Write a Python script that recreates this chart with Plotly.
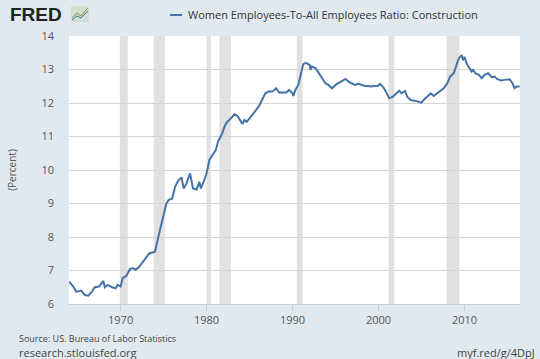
import plotly.graph_objects as go

dates = ["1964-01","1964-07","1964-11","1965-06","1965-11","1966-04","1966-09","1967-01","1967-07","1968-01",
"1968-03","1968-07","1969-01","1969-06","1969-09","1970-01","1970-04","1970-09","1971-02","1971-06",
"1971-10","1972-03","1972-10","1973-05","1974-01","1974-04","1974-09","1974-12","1975-05","1975-08",
"1976-01","1976-05","1976-10","1977-02","1977-05","1977-09","1978-02","1978-06","1978-11","1979-03",
"1979-05","1979-09","1980-01","1980-05","1980-10","1981-02","1981-05","1981-10","1982-03","1982-06",
"1982-11","1983-04","1983-09","1984-03","1984-06","1984-09","1985-01","1985-05","1985-10","1986-03",
"1986-07","1986-11","1987-04","1987-09","1988-02","1988-06","1988-11","1989-04","1989-08","1990-01",
"1990-02","1990-05","1990-09","1991-01","1991-04","1991-08","1992-01","1992-02","1992-04","1992-09",
"1993-02","1993-06","1993-11","1994-03","1994-08","1995-01","1995-05","1995-10","1996-03","1996-07",
"1996-12","1997-04","1997-09","1998-02","1998-06","1998-10","1999-03","1999-07","1999-12","2000-03",
"2000-07","2000-10","2001-02","2001-04","2001-09","2002-02","2002-06","2002-09","2003-02","2003-05",
"2003-10","2004-03","2004-08","2005-01","2005-04","2005-09","2006-02","2006-06","2006-11","2007-04",
"2007-08","2008-01","2008-05","2008-10","2009-02","2009-05","2009-09","2009-11","2010-01","2010-04",
"2010-08","2010-11","2011-01","2011-04","2011-09","2012-01","2012-05","2012-10","2013-03","2013-07",
"2013-11","2014-04","2014-09","2015-01","2015-04","2015-08","2015-11","2016-02","2016-06"]
values = [6.67,6.52,6.37,6.40,6.27,6.25,6.37,6.50,6.52,6.69,
6.50,6.57,6.50,6.47,6.57,6.52,6.77,6.84,7.04,7.07,
7.02,7.11,7.31,7.51,7.56,7.86,8.31,8.56,9.00,9.10,
9.15,9.50,9.70,9.78,9.45,9.60,9.90,9.45,9.42,9.65,
9.45,9.65,9.90,10.30,10.45,10.60,10.85,11.05,11.34,11.44,
11.54,11.67,11.59,11.37,11.49,11.44,11.54,11.64,11.79,11.94,
12.14,12.29,12.34,12.34,12.44,12.31,12.31,12.31,12.39,12.29,
12.21,12.39,12.54,12.89,13.16,13.20,13.13,12.99,13.09,13.04,
12.89,12.74,12.59,12.54,12.44,12.54,12.59,12.67,12.72,12.64,
12.59,12.54,12.57,12.54,12.51,12.51,12.49,12.51,12.51,12.57,
12.49,12.39,12.19,12.14,12.19,12.29,12.37,12.29,12.36,12.19,
12.09,12.07,12.04,12.01,12.09,12.19,12.29,12.21,12.29,12.39,
12.44,12.59,12.79,12.89,13.13,13.33,13.43,13.28,13.38,13.18,
13.04,12.94,12.99,12.89,12.84,12.74,12.84,12.89,12.77,12.79,
12.71,12.67,12.69,12.69,12.71,12.59,12.44,12.49,12.49]

recession_starts = ["1969-12-01","1973-11-01","1980-01-01","1981-07-01","1990-07-01","2001-03-01","2007-12-01"]
recession_ends = ["1970-11-01","1975-03-01","1980-07-01","1982-11-01","1991-03-01","2001-11-01","2009-06-01"]

series_name = "Women Employees-To-All Employees Ratio: Construction"
y_ticks = [6, 7, 8, 9, 10, 11, 12, 13, 14]
x_ticks = ["1970-01-01","1980-01-01","1990-01-01","2000-01-01","2010-01-01"]
x_tick_labels = ["1970","1980","1990","2000","2010"]

fig = go.Figure()
fig.add_trace(go.Scatter(x=dates, y=values, mode="lines",
                         line=dict(color="#4572a7", width=2), name=series_name, showlegend=False))

for s, e in zip(recession_starts, recession_ends):
    fig.add_vrect(x0=s, x1=e, fillcolor="#e1e1e1", line_width=0, layer="below")

L, R, T, B = 65, 20, 36, 55
PW, PH = 540 - L - R, 359 - T - B

def px(x):
    return (x - L) / PW

def py(y):
    return (359 - B - y) / PH

fig.update_layout(
    width=540, height=359,
    margin=dict(l=L, r=R, t=T, b=B),
    paper_bgcolor="#e1e9f0",
    plot_bgcolor="#ffffff",
    font=dict(family="Open Sans, DejaVu Sans, sans-serif", color="#555555"),
    xaxis=dict(type="date", range=["1964-01-01", "2016-06-15"],
               tickvals=x_ticks, ticktext=x_tick_labels,
               showgrid=False, ticks="outside", ticklen=6, tickcolor="#c0d0e0",
               showline=True, linecolor="#c0d0e0", linewidth=1,
               tickfont=dict(size=11, color="#555555"), zeroline=False),
    yaxis=dict(range=[6, 14], tickvals=y_ticks, showgrid=True, gridcolor="#d5d5d5",
               gridwidth=1, zeroline=False, ticks="", ticklabelstandoff=14,
               tickfont=dict(size=11, color="#555555"),
               title=dict(text="(Percent)", font=dict(size=10, color="#555555"), standoff=22)),
)

# legend-like header
fig.add_shape(type="line", xref="paper", yref="paper", x0=px(167), x1=px(179),
              y0=py(15), y1=py(15), line=dict(color="#4572a7", width=2))
fig.add_annotation(text=series_name, xref="paper", yref="paper",
                   x=px(183), y=py(15), xanchor="left", yanchor="middle",
                   showarrow=False, font=dict(size=11, color="#333333"))

# FRED logo
fig.add_annotation(text="<b>FRED</b>", xref="paper", yref="paper",
                   x=px(3), y=py(14), xanchor="left", yanchor="middle",
                   showarrow=False, font=dict(size=19, color="#222222", family="Arial, Liberation Sans, sans-serif"))
fig.add_shape(type="rect", xref="paper", yref="paper", x0=px(67), x1=px(85), y0=py(22), y1=py(6),
              fillcolor="#d3ddd0", line=dict(width=0))
fig.add_shape(type="path", xref="paper", yref="paper",
              path=f"M {px(68)},{py(18)} L {px(73)},{py(13)} L {px(77)},{py(16)} L {px(84)},{py(8)}",
              line=dict(color="#6aa84f", width=1))
fig.add_shape(type="path", xref="paper", yref="paper",
              path=f"M {px(68)},{py(20)} L {px(73)},{py(16)} L {px(77)},{py(18)} L {px(84)},{py(11)}",
              line=dict(color="#4572a7", width=1))

# footer
fig.add_annotation(text="Source: US. Bureau of Labor Statistics", xref="paper", yref="paper",
                   x=px(13), y=py(338), xanchor="left", yanchor="middle",
                   showarrow=False, font=dict(size=9, color="#444444"))
fig.add_annotation(text="research.stlouisfed.org", xref="paper", yref="paper",
                   x=px(13), y=py(352), xanchor="left", yanchor="middle",
                   showarrow=False, font=dict(size=11, color="#444444"))
fig.add_annotation(text="myf.red/g/4DpJ", xref="paper", yref="paper",
                   x=px(537), y=py(352), xanchor="right", yanchor="middle",
                   showarrow=False, font=dict(size=11, color="#444444"))

fig.write_html("out.html", config={"displayModeBar": False},
               post_script="document.body.style.margin='0';document.body.style.padding='0';")
